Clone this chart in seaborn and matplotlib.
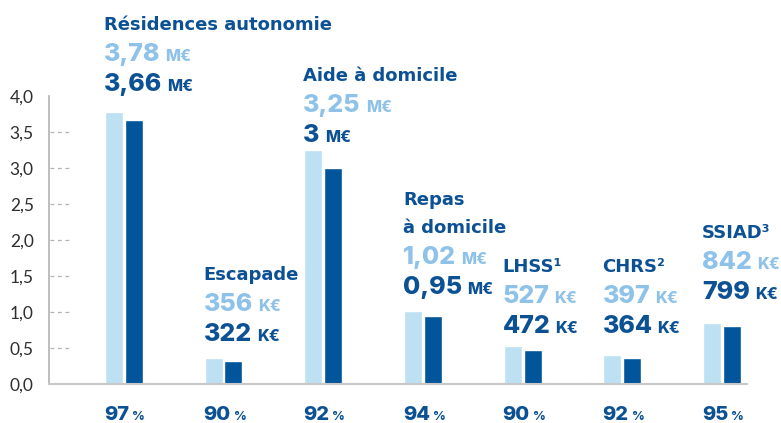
import matplotlib
matplotlib.use("Agg")
import matplotlib.pyplot as plt
import seaborn as sns
import pandas as pd

# ---- data ----
categories = ["Résidences autonomie", "Escapade", "Aide à domicile",
              "Repas\nà domicile", "LHSS¹", "CHRS²", "SSIAD³"]
light_values = [3.78, 0.356, 3.25, 1.02, 0.527, 0.397, 0.842]   # M€
dark_values = [3.66, 0.322, 3.0, 0.95, 0.472, 0.364, 0.799]     # M€
percent_labels = [97, 90, 92, 94, 90, 92, 95]
y_ticks = [0.0, 0.5, 1.0, 1.5, 2.0, 2.5, 3.0, 3.5, 4.0]

# ---- layout (annotation baselines, in data units) ----
label_base_y = [4.07, 0.60, 3.36, 1.25, 0.71, 0.71, 1.18]

LIGHT_BAR = "#bde0f3"
DARK_BAR = "#00559b"
LIGHT_TXT = "#8ec2e8"
DARK_TXT = "#0b5194"
FONT = "Inter"
TITLE_FONT = "DejaVu Sans"
TICK_FONT = "Lato"

sns.set_theme(style="white")
plt.rcParams["font.family"] = [FONT, "DejaVu Sans"]

df = pd.DataFrame({
    "cat": categories * 2,
    "value": light_values + dark_values,
    "series": ["light"] * len(categories) + ["dark"] * len(categories),
})

fig = plt.figure(figsize=(7.81, 4.23), dpi=100)
ax = fig.add_axes([49 / 781, 39 / 423, 698 / 781, 288 / 423])

sns.barplot(data=df, x="cat", y="value", hue="series",
            palette=[LIGHT_BAR, DARK_BAR], width=0.4, gap=0.1,
            legend=False, ax=ax, saturation=1)

ax.set_xlim(-0.75, 6.25)
ax.set_ylim(0, 4.0)
ax.set_xlabel("")
ax.set_ylabel("")
ax.set_xticks([])
ax.set_yticks(y_ticks)
ax.set_yticklabels([f"{t:.1f}".replace(".", ",") for t in y_ticks],
                   fontsize=12.5, color="#2e2e2e", fontweight="normal",
                   family=[TICK_FONT, "DejaVu Sans"])
ax.tick_params(axis="y", length=0, pad=11)
for s in ["top", "right"]:
    ax.spines[s].set_visible(False)
ax.spines["left"].set_color("#b8b8b8")
ax.spines["left"].set_linewidth(1.3)
ax.spines["bottom"].set_color("#c8c8c8")
ax.spines["bottom"].set_linewidth(1.5)

# dashed tick marks
for t in y_ticks[1:-1]:
    ax.plot([0.002, 0.028], [t, t], transform=ax.get_yaxis_transform(),
            color="#b0b0b0", lw=0.9, ls=(0, (3, 3)), clip_on=False)


def fmt(v):
    if v >= 0.9:
        s = f"{v:.2f}".rstrip("0").rstrip(".")
        return s.replace(".", ","), "M€"
    return f"{round(v * 1000)}", "K€"


PX = 72 / 100  # points per pixel
texts = []
for i, cat in enumerate(categories):
    x = i - 0.2
    yb = label_base_y[i]
    # dark value
    n, u = fmt(dark_values[i])
    t = ax.annotate(n, xy=(x, yb), xytext=(0, 0), textcoords="offset points",
                    ha="left", va="baseline", fontsize=18, fontweight="heavy",
                    color=DARK_TXT, annotation_clip=False)
    texts.append((t, u, DARK_TXT, x, yb, 0))
    # light value
    n, u = fmt(light_values[i])
    t = ax.annotate(n, xy=(x, yb), xytext=(0, 30 * PX), textcoords="offset points",
                    ha="left", va="baseline", fontsize=18, fontweight="heavy",
                    color=LIGHT_TXT, annotation_clip=False)
    texts.append((t, u, LIGHT_TXT, x, yb, 30 * PX))
    # title lines
    lines = cat.split("\n")
    for k, line in enumerate(reversed(lines)):
        ax.annotate(line, xy=(x, yb), xytext=(0, (61 + 28 * k) * PX),
                    textcoords="offset points", ha="left", va="baseline",
                    fontsize=13, fontweight="bold", color=DARK_TXT,
                    family=[TITLE_FONT], annotation_clip=False)
    # percentage under axis
    t = ax.annotate(str(percent_labels[i]), xy=(x, 0), xytext=(0, -36 * PX),
                    textcoords="offset points", ha="left", va="baseline",
                    fontsize=14.5, fontweight="heavy", color=DARK_TXT,
                    annotation_clip=False)
    texts.append((t, "%", DARK_TXT, x, 0, -36 * PX))

fig.canvas.draw()
r = fig.canvas.get_renderer()
for t, u, col, x, yb, dy in texts:
    bb = t.get_window_extent(renderer=r)
    x0 = ax.transData.transform((x, yb))[0]
    dx = (bb.x1 - x0 + (5 if u != "%" else 3)) * PX
    ax.annotate(u, xy=(x, yb), xytext=(dx, dy), textcoords="offset points",
                ha="left", va="baseline",
                fontsize=11.5 if u != "%" else 9, fontweight="heavy",
                color=col, annotation_clip=False)

fig.savefig("out.png", dpi=100)
